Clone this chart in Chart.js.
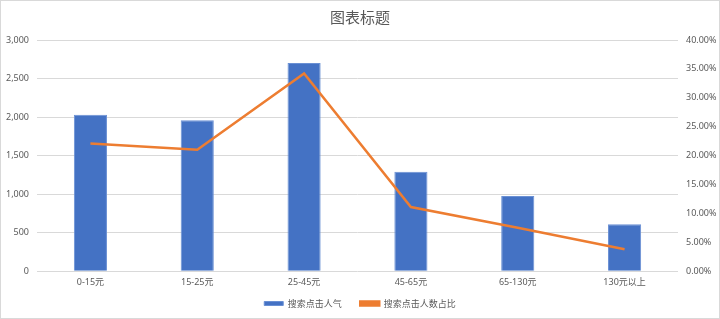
<!DOCTYPE html>
<html>
<head>
<meta charset="utf-8">
<script src="https://cdn.jsdelivr.net/npm/chart.js@4"></script>
<style>
    html, body { margin: 0; padding: 0; background: #fff; }
    #wrap {
        width: 720px;
        height: 319px;
        box-sizing: border-box;
        border: 1px solid #d9d9d9;
        position: relative;
    }
</style>
</head>
<body>
<div id="wrap"><canvas id="chart"></canvas></div>
<script>
// 价格区间
const categories = ['0-15元', '15-25元', '25-45元', '45-65元', '65-130元', '130元以上']
// 搜索点击人气
const clicks = [2030, 1960, 2700, 1290, 975, 610]
// 搜索点击人数占比
const shares = [0.221, 0.210, 0.342, 0.111, 0.075, 0.038]

const leftTicks = [0, 500, 1000, 1500, 2000, 2500, 3000]
const rightTicks = [0, 0.05, 0.10, 0.15, 0.20, 0.25, 0.30, 0.35, 0.40]

const font = "'Noto Sans CJK SC', 'Noto Sans', sans-serif"
const numFont = "'Noto Sans', 'Noto Sans CJK SC', sans-serif"
const textColor = '#595959'
const gridColor = '#d9d9d9'

new Chart(document.getElementById('chart'), {
    data: {
        labels: categories,
        datasets: [
            {
                type: 'line',
                label: '搜索点击人数占比',
                data: shares,
                yAxisID: 'y1',
                borderColor: '#ed7d31',
                backgroundColor: '#ed7d31',
                borderWidth: 2.5,
                pointRadius: 0,
                tension: 0,
                order: 0
            },
            {
                type: 'bar',
                label: '搜索点击人气',
                data: clicks,
                yAxisID: 'y',
                backgroundColor: '#4472c4',
                borderColor: '#6a90d4',
                borderWidth: 1,
                categoryPercentage: 1,
                barPercentage: 0.31,
                order: 1
            }
        ]
    },
    options: {
        responsive: true,
        maintainAspectRatio: false,
        animation: false,
        layout: {
            padding: { left: 0, right: 0, top: 0, bottom: 0 }
        },
        plugins: {
            title: {
                display: true,
                text: '图表标题',
                color: textColor,
                font: { family: font, size: 15, weight: 'normal' },
                padding: { top: 7, bottom: 14 }
            },
            legend: {
                position: 'bottom',
                reverse: true,
                labels: {
                    color: textColor,
                    font: { family: font, size: 9 },
                    boxWidth: 19,
                    boxHeight: 4,
                    padding: 5,
                    generateLabels: chart => {
                        const items = Chart.defaults.plugins.legend.labels.generateLabels(chart)
                        // 加宽两项之间的间距
                        items.forEach(item => {
                            if (item.datasetIndex === 1) item.text = item.text + '\u2003\u2002'
                        })
                        return items
                    }
                }
            },
            tooltip: { enabled: false }
        },
        scales: {
            x: {
                grid: { display: false, drawTicks: false },
                border: { display: false },
                ticks: {
                    color: textColor,
                    font: { family: numFont, size: 9 },
                    padding: 6
                }
            },
            y: {
                position: 'left',
                min: 0,
                max: 3000,
                afterBuildTicks: axis => { axis.ticks = leftTicks.map(v => ({ value: v })) },
                afterFit: axis => { axis.width = 36 },
                grid: { color: gridColor, drawTicks: false },
                border: { display: false },
                ticks: {
                    color: textColor,
                    font: { family: numFont, size: 9 },
                    padding: 8,
                    callback: v => v.toLocaleString('en-US')
                }
            },
            y1: {
                position: 'right',
                min: 0,
                max: 0.4,
                afterBuildTicks: axis => { axis.ticks = rightTicks.map(v => ({ value: v })) },
                afterFit: axis => { axis.width = 41 },
                grid: { drawOnChartArea: false, drawTicks: false },
                border: { display: false },
                ticks: {
                    color: textColor,
                    font: { family: numFont, size: 9 },
                    padding: 8,
                    callback: v => (v * 100).toFixed(2) + '%'
                }
            }
        }
    }
})
</script>
</body>
</html>
